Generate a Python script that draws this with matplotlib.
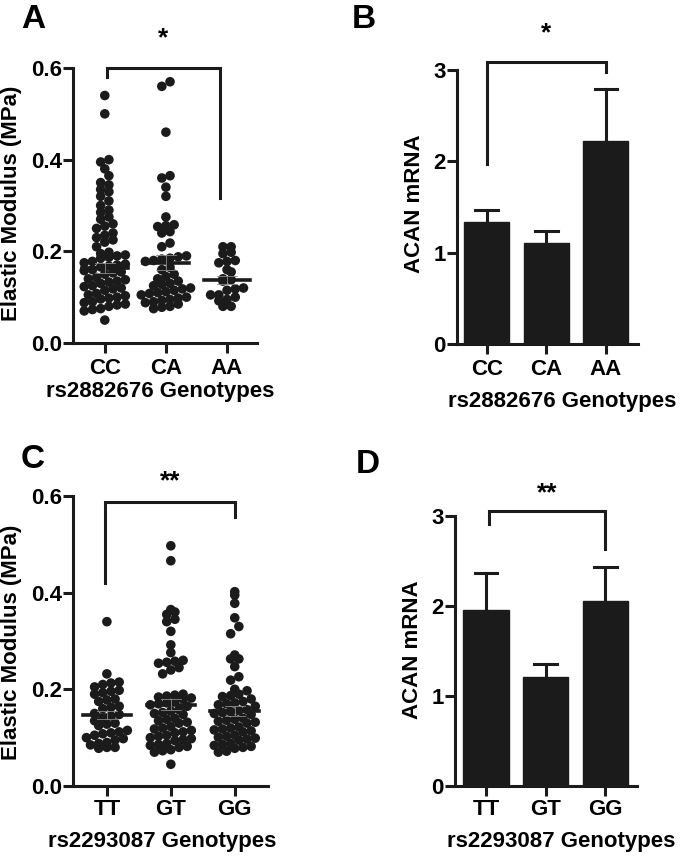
import numpy as np
import matplotlib
matplotlib.use("Agg")
import matplotlib.pyplot as plt

plt.rcParams['font.family'] = ['Liberation Sans', 'DejaVu Sans']
plt.rcParams['font.weight'] = 'bold'

W, H = 685, 860

# ---------------- data ----------------
genos_a = ["CC", "CA", "AA"]
genos_c = ["TT", "GT", "GG"]

cc_vals = [0.54, 0.50, 0.40, 0.395, 0.38, 0.365, 0.35, 0.345, 0.335, 0.33, 0.32, 0.31, 0.30,
           0.29, 0.285, 0.275, 0.27, 0.26, 0.255, 0.25, 0.24, 0.235, 0.23, 0.225, 0.22, 0.21,
           0.198, 0.195, 0.192, 0.19, 0.187, 0.185, 0.178, 0.175, 0.172, 0.17, 0.168, 0.166,
           0.16, 0.158, 0.155, 0.153, 0.15, 0.143, 0.14, 0.138, 0.135, 0.133, 0.13,
           0.125, 0.123, 0.12, 0.118, 0.115, 0.108, 0.105, 0.103, 0.10, 0.098, 0.096,
           0.09, 0.088, 0.085, 0.083, 0.08, 0.075, 0.073, 0.07, 0.05]
ca_vals = [0.57, 0.56, 0.46, 0.365, 0.36, 0.34, 0.32, 0.275, 0.258, 0.256, 0.254, 0.243,
           0.24, 0.218, 0.21, 0.19, 0.188, 0.185, 0.183, 0.18, 0.178, 0.165, 0.16, 0.15,
           0.145, 0.14, 0.135, 0.13, 0.128, 0.125, 0.12, 0.118, 0.115, 0.112, 0.11, 0.108,
           0.105, 0.10, 0.098, 0.095, 0.093, 0.09, 0.088, 0.085, 0.08, 0.078, 0.075]
aa_vals = [0.21, 0.21, 0.198, 0.195, 0.18, 0.178, 0.175, 0.16, 0.155, 0.14, 0.138, 0.135,
           0.12, 0.118, 0.115, 0.105, 0.105, 0.10, 0.095, 0.092, 0.08, 0.08]
a_means = [0.164, 0.175, 0.137]
a_sems = [0.011, 0.016, 0.009]

tt_vals = [0.34, 0.232, 0.215, 0.213, 0.21, 0.205, 0.198, 0.196, 0.193, 0.19, 0.18, 0.178,
           0.175, 0.165, 0.163, 0.16, 0.15, 0.148, 0.145, 0.14, 0.135, 0.13, 0.128, 0.125,
           0.115, 0.112, 0.11, 0.108, 0.105, 0.10, 0.098, 0.095, 0.09, 0.088, 0.085, 0.08,
           0.08, 0.078]
gt_vals = [0.497, 0.466, 0.365, 0.36, 0.355, 0.345, 0.34, 0.32, 0.292, 0.276, 0.26, 0.258,
           0.256, 0.254, 0.245, 0.24, 0.232,
           0.19, 0.188, 0.186, 0.184, 0.182, 0.18, 0.175, 0.172, 0.17, 0.168, 0.165,
           0.158, 0.155, 0.152, 0.15, 0.148, 0.14, 0.138, 0.135, 0.132, 0.13,
           0.123, 0.12, 0.118, 0.115, 0.112, 0.11, 0.105, 0.103, 0.10, 0.098, 0.096, 0.094,
           0.088, 0.086, 0.084, 0.082, 0.08, 0.075, 0.073, 0.07, 0.045]
gg_vals = [0.402, 0.395, 0.378, 0.348, 0.33, 0.315, 0.271, 0.263, 0.263, 0.247, 0.226, 0.219,
           0.20, 0.197,
           0.19, 0.187, 0.185, 0.18, 0.175, 0.172, 0.17, 0.168, 0.165, 0.158, 0.156, 0.154,
           0.152, 0.15, 0.148, 0.14, 0.138, 0.136, 0.134, 0.132, 0.13, 0.122, 0.12, 0.118,
           0.116, 0.114, 0.112, 0.105, 0.103, 0.101, 0.099, 0.097, 0.095, 0.088, 0.086,
           0.084, 0.082, 0.08, 0.078, 0.072, 0.07]
c_means = [0.147, 0.168, 0.155]
c_sems = [0.009, 0.011, 0.010]

b_means = [1.34, 1.11, 2.22]
b_sems = [0.13, 0.13, 0.57]
d_means = [1.96, 1.21, 2.06]
d_sems = [0.41, 0.15, 0.37]

DARK = "#1b1b1b"
LW = 2.2
FS = 16


def add_ax(l, r, b, t):
    return fig.add_axes([l / W, 1 - b / H, (r - l) / W, (b - t) / H])


def style(ax, xl, ticklabels, yticks, yfmt, xpad):
    for s in ["top", "right"]:
        ax.spines[s].set_visible(False)
    for s in ["left", "bottom"]:
        ax.spines[s].set_linewidth(LW)
        ax.spines[s].set_color(DARK)
    ax.set_xlim(*xl)
    ax.set_xticks(range(len(ticklabels)))
    ax.set_xticklabels(ticklabels)
    ax.set_yticks(yticks)
    ax.set_yticklabels([yfmt.format(v) for v in yticks])
    ax.tick_params(axis="both", length=7, width=LW, color=DARK, labelsize=FS)
    ax.tick_params(axis="y", pad=1)
    ax.tick_params(axis="x", pad=xpad)
    for lab in ax.get_xticklabels() + ax.get_yticklabels():
        lab.set_fontweight("bold")


def bracket(ax, x0, x1, ytop, yl, yr, text, ty):
    ax.plot([x0, x0, x1, x1], [yl, ytop, ytop, yr], color=DARK, lw=LW,
            clip_on=False, solid_joinstyle="miter")
    ax.text((x0 + x1) / 2, ty, text, ha="center", va="center", fontsize=FS + 3,
            fontweight="bold", clip_on=False)


def prism_scatter(ax, groups, means, sems, px_x, px_y):
    dot = 9.6    # dot diameter in px
    step = 8.2   # horizontal spacing in px
    rowh = 8.0   # row height in px
    binh = rowh / px_y
    for i, vals in enumerate(groups):
        v = np.sort(np.asarray(vals, dtype=float))
        bins = np.floor(v / binh).astype(int)
        xs = np.zeros_like(v)
        for b in np.unique(bins):
            idx = np.where(bins == b)[0]
            n = len(idx)
            offs = (np.arange(n) - (n - 1) / 2) * (step / px_x)
            xs[idx] = i + offs
        ax.scatter(xs, v, s=(dot * 0.72) ** 2, color=DARK, edgecolors="none", zorder=3,
                   clip_on=False)
        m, se = means[i], sems[i]
        ax.plot([i - 0.38, i + 0.38], [m, m], color=DARK, lw=LW + 0.4, zorder=4)
        ax.plot([i, i], [m - se, m + se], color="#8a8a8a", lw=0.6, zorder=4)
        for yy in (m - se, m + se):
            ax.plot([i - 0.16, i + 0.16], [yy, yy], color="#8a8a8a", lw=0.6, zorder=4)


def bars(ax, means, sems):
    x = np.arange(len(means))
    ax.bar(x, means, width=0.76, color=DARK, edgecolor=DARK, zorder=2)
    for xi, m, se in zip(x, means, sems):
        ax.plot([xi, xi], [m, m + se], color=DARK, lw=LW, zorder=1)
        ax.plot([xi - 0.19, xi + 0.19], [m + se, m + se], color=DARK, lw=LW, zorder=1)


fig = plt.figure(figsize=(W / 100, H / 100), dpi=100)

# ---------- Panel A ----------
axA = add_ax(73, 257, 343, 68)
style(axA, (-0.52, 2.49), genos_a, [0.0, 0.2, 0.4, 0.6], "{:.1f}", 4.0)
axA.set_ylim(0, 0.6)
prism_scatter(axA, [cc_vals, ca_vals, aa_vals], a_means, a_sems, 61, 458)
bracket(axA, 0.03, 1.88, 0.6, 0.58, 0.316, "*", 0.665)

# ---------- Panel B ----------
axB = add_ax(457, 638, 344, 70)
style(axB, (-0.5, 2.54), genos_a, [0, 1, 2, 3], "{:d}", 4.0)
axB.set_ylim(0, 3)
bars(axB, b_means, b_sems)
bracket(axB, 0.0, 2.0, 3.09, 1.97, 2.98, "*", 3.4)

# ---------- Panel C ----------
axC = add_ax(73, 268, 786, 496)
style(axC, (-0.53, 2.52), genos_c, [0.0, 0.2, 0.4, 0.6], "{:.1f}", 2.2)
axC.set_ylim(0, 0.6)
prism_scatter(axC, [tt_vals, gt_vals, gg_vals], c_means, c_sems, 64, 483)
bracket(axC, -0.03, 2.0, 0.588, 0.42, 0.557, "**", 0.63)

# ---------- Panel D ----------
axD = add_ax(455, 637, 786, 516)
style(axD, (-0.52, 2.53), genos_c, [0, 1, 2, 3], "{:d}", 2.2)
axD.set_ylim(0, 3)
bars(axD, d_means, d_sems)
bracket(axD, 0.05, 2.0, 3.06, 2.91, 2.63, "**", 3.25)

# ---------- labels ----------
def ftext(x, y, s, **kw):
    fig.text(x / W, 1 - y / H, s, fontweight="bold", **kw)

ftext(12, 203, "Elastic Modulus (MPa)", rotation=90, ha="center", va="center", fontsize=FS)
ftext(415, 204, "ACAN mRNA", rotation=90, ha="center", va="center", fontsize=FS)
ftext(12, 642, "Elastic Modulus (MPa)", rotation=90, ha="center", va="center", fontsize=FS)
ftext(412, 650, "ACAN mRNA", rotation=90, ha="center", va="center", fontsize=FS)

ftext(160, 391, "rs2882676 Genotypes", ha="center", va="center", fontsize=FS)
ftext(562, 401, "rs2882676 Genotypes", ha="center", va="center", fontsize=FS)
ftext(162, 841, "rs2293087 Genotypes", ha="center", va="center", fontsize=FS)
ftext(561, 841, "rs2293087 Genotypes", ha="center", va="center", fontsize=FS)

ftext(33, 19, "A", ha="center", va="center", fontsize=24)
ftext(364, 20, "B", ha="center", va="center", fontsize=24)
ftext(33, 460, "C", ha="center", va="center", fontsize=24)
ftext(368, 464, "D", ha="center", va="center", fontsize=24)

fig.savefig("out.png", dpi=100, facecolor="white")
